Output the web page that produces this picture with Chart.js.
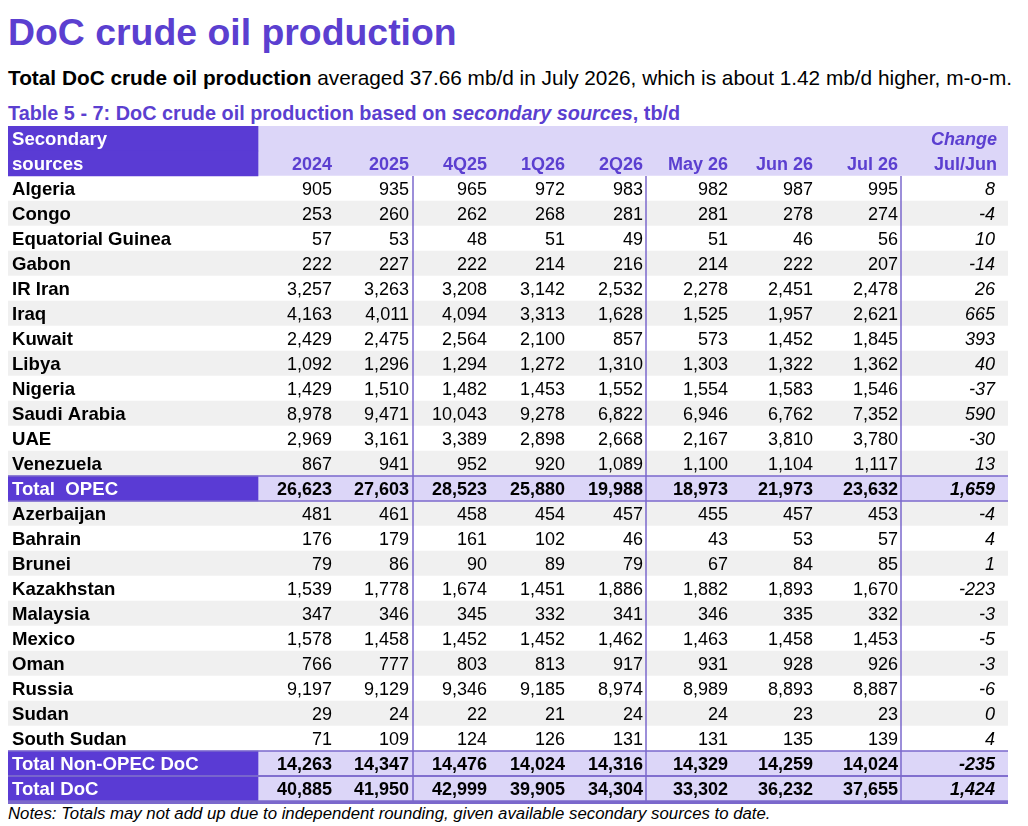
<!DOCTYPE html>
<html>
<head>
<meta charset="utf-8">
<title>DoC crude oil production</title>
<script src="https://cdn.jsdelivr.net/npm/chart.js@4.4.1/dist/chart.umd.min.js"></script>
<style>
  body { margin: 0; background: #fff; font-family: "Liberation Sans", Arial, sans-serif; color: #000; }
  .page { position: relative; width: 1028px; height: 826px; overflow: hidden; }
  h1 { position: absolute; left: 8px; top: 14px; margin: 0; font-size: 37.4px; line-height: 37px; color: #5b3fd0; font-weight: bold; white-space: nowrap; }
  .lead { position: absolute; left: 8px; top: 67px; margin: 0; font-size: 20.8px; line-height: 21px; white-space: nowrap; }
  .caption { position: absolute; left: 8px; top: 103px; font-size: 19.85px; line-height: 20px; color: #5b3fd0; font-weight: bold; white-space: nowrap; }
  #tbl { position: absolute; left: 8px; top: 126px; }
  .notes { position: absolute; left: 8px; top: 805px; font-size: 16.8px; line-height: 17px; font-style: italic; white-space: nowrap; }
</style>
</head>
<body>
<div class="page">
  <h1>DoC crude oil production</h1>
  <p class="lead"><b>Total DoC crude oil production</b> averaged 37.66 mb/d in July 2026, which is about 1.42 mb/d higher, m-o-m.</p>
  <div class="caption">Table 5 - 7: DoC crude oil production based on <i>secondary sources</i>, tb/d</div>
  <canvas id="tbl" width="1000" height="678"></canvas>
  <div class="notes">Notes: Totals may not add up due to independent rounding, given available secondary sources to date.</div>
</div>
<script>
// DATA
const columns = ['2024', '2025', '4Q25', '1Q26', '2Q26', 'May 26', 'Jun 26', 'Jul 26'];
const changeHeader = ['Change', 'Jul/Jun'];

const opecNames = ['Algeria', 'Congo', 'Equatorial Guinea', 'Gabon', 'IR Iran', 'Iraq',
  'Kuwait', 'Libya', 'Nigeria', 'Saudi Arabia', 'UAE', 'Venezuela'];
const opecValues = [
  [905, 935, 965, 972, 983, 982, 987, 995],
  [253, 260, 262, 268, 281, 281, 278, 274],
  [57, 53, 48, 51, 49, 51, 46, 56],
  [222, 227, 222, 214, 216, 214, 222, 207],
  [3257, 3263, 3208, 3142, 2532, 2278, 2451, 2478],
  [4163, 4011, 4094, 3313, 1628, 1525, 1957, 2621],
  [2429, 2475, 2564, 2100, 857, 573, 1452, 1845],
  [1092, 1296, 1294, 1272, 1310, 1303, 1322, 1362],
  [1429, 1510, 1482, 1453, 1552, 1554, 1583, 1546],
  [8978, 9471, 10043, 9278, 6822, 6946, 6762, 7352],
  [2969, 3161, 3389, 2898, 2668, 2167, 3810, 3780],
  [867, 941, 952, 920, 1089, 1100, 1104, 1117]
];
const opecChange = [8, -4, 10, -14, 26, 665, 393, 40, -37, 590, -30, 13];
const opecTotal = [26623, 27603, 28523, 25880, 19988, 18973, 21973, 23632];
const opecTotalChange = 1659;

const nonOpecNames = ['Azerbaijan', 'Bahrain', 'Brunei', 'Kazakhstan', 'Malaysia', 'Mexico',
  'Oman', 'Russia', 'Sudan', 'South Sudan'];
const nonOpecValues = [
  [481, 461, 458, 454, 457, 455, 457, 453],
  [176, 179, 161, 102, 46, 43, 53, 57],
  [79, 86, 90, 89, 79, 67, 84, 85],
  [1539, 1778, 1674, 1451, 1886, 1882, 1893, 1670],
  [347, 346, 345, 332, 341, 346, 335, 332],
  [1578, 1458, 1452, 1452, 1462, 1463, 1458, 1453],
  [766, 777, 803, 813, 917, 931, 928, 926],
  [9197, 9129, 9346, 9185, 8974, 8989, 8893, 8887],
  [29, 24, 22, 21, 24, 24, 23, 23],
  [71, 109, 124, 126, 131, 131, 135, 139]
];
const nonOpecChange = [-4, 4, 1, -223, -3, -5, -3, -6, 0, 4];
const nonOpecTotal = [14263, 14347, 14476, 14024, 14316, 14329, 14259, 14024];
const nonOpecTotalChange = -235;

const docTotal = [40885, 41950, 42999, 39905, 34304, 33302, 36232, 37655];
const docTotalChange = 1424;

// LAYOUT (x axis runs 0..1000 across the table)
const TABLE_W = 1000;
const LABEL_END = 250;
const COL_RIGHT = [324, 401, 479, 557, 635, 720, 805, 890, 987];
const DIVIDERS = [405, 638, 893];

const PURPLE = '#5a3bd4';
const LAVENDER = '#dcd6f8';
const GRAY = '#f0f0f0';
const LINE = '#7b68cc';
const HEAD_TEXT = '#5b3fd0';
const FONT = '"Liberation Sans", Arial, sans-serif';
const LABEL_FONT = 'bold 18.6px ' + FONT;

// build the row list
const rows = [{ key: 'hdr1', kind: 'head' }, { key: 'hdr2', kind: 'head' }];
opecNames.forEach((n, i) => rows.push({ key: n, kind: 'row', shade: i % 2 === 1, values: opecValues[i], change: opecChange[i] }));
rows.push({ key: 'Total  OPEC', kind: 'total', values: opecTotal, change: opecTotalChange });
nonOpecNames.forEach((n, i) => rows.push({ key: n, kind: 'row', shade: i % 2 === 0, values: nonOpecValues[i], change: nonOpecChange[i] }));
rows.push({ key: 'Total Non-OPEC DoC', kind: 'total', values: nonOpecTotal, change: nonOpecTotalChange });
rows.push({ key: 'Total DoC', kind: 'total', values: docTotal, change: docTotalChange });

const fmt = v => v.toLocaleString('en-US');

const tableText = {
  id: 'tableText',
  afterDatasetsDraw(chart) {
    const { ctx, scales: { x, y } } = chart;
    const band = y.getPixelForValue(1) - y.getPixelForValue(0);
    const rowTop = i => y.getPixelForValue(i) - band / 2;
    ctx.save();

    // rules
    ctx.strokeStyle = LINE;
    ctx.lineWidth = 1.5;
    const top = rowTop(2);
    const bottom = rowTop(rows.length - 1) + band;
    DIVIDERS.forEach(d => {
      const px = x.getPixelForValue(d);
      ctx.beginPath(); ctx.moveTo(px, top); ctx.lineTo(px, bottom); ctx.stroke();
    });
    rows.forEach((r, i) => {
      if (r.kind !== 'total') return;
      [rowTop(i), rowTop(i) + band].forEach(py => {
        ctx.beginPath(); ctx.moveTo(x.getPixelForValue(0), py); ctx.lineTo(x.getPixelForValue(TABLE_W), py); ctx.stroke();
      });
    });
    ctx.lineWidth = 3;
    ctx.beginPath(); ctx.moveTo(x.getPixelForValue(0), bottom + 1.5); ctx.lineTo(x.getPixelForValue(TABLE_W), bottom + 1.5); ctx.stroke();

    // text
    ctx.textBaseline = 'alphabetic';
    const lx = x.getPixelForValue(4);
    const base = i => y.getPixelForValue(i) + 6.5;

    ctx.fillStyle = '#fff';
    ctx.textAlign = 'left';
    ctx.font = LABEL_FONT;
    ctx.fillText('Secondary', lx, base(0));
    ctx.fillText('sources', lx, base(1));

    ctx.fillStyle = HEAD_TEXT;
    ctx.textAlign = 'right';
    ctx.font = 'bold 18px ' + FONT;
    columns.forEach((c, j) => ctx.fillText(c, x.getPixelForValue(COL_RIGHT[j]), base(1)));
    ctx.fillText(changeHeader[1], x.getPixelForValue(COL_RIGHT[8] + 2), base(1));
    ctx.font = 'italic bold 18px ' + FONT;
    ctx.fillText(changeHeader[0], x.getPixelForValue(COL_RIGHT[8] + 2), base(0));

    rows.forEach((r, i) => {
      if (r.kind === 'head') return;
      const b = base(i);
      const total = r.kind === 'total';
      ctx.textAlign = 'left';
      ctx.font = LABEL_FONT;
      ctx.fillStyle = total ? '#fff' : '#000';
      ctx.fillText(r.key, lx, b);
      ctx.fillStyle = '#000';
      ctx.textAlign = 'right';
      ctx.font = (total ? 'bold ' : '') + '18px ' + FONT;
      r.values.forEach((v, j) => ctx.fillText(fmt(v), x.getPixelForValue(COL_RIGHT[j]), b));
      ctx.font = 'italic ' + (total ? 'bold ' : '') + '18px ' + FONT;
      ctx.fillText(fmt(r.change), x.getPixelForValue(COL_RIGHT[8]), b);
    });
    ctx.restore();
  }
};

new Chart(document.getElementById('tbl'), {
  type: 'bar',
  data: {
    labels: rows.map(r => r.key),
    datasets: [
      {
        label: 'label cells',
        data: rows.map(r => r.kind === 'row' ? null : [0, LABEL_END]),
        backgroundColor: PURPLE,
        grouped: false,
        barPercentage: 1,
        categoryPercentage: 1
      },
      {
        label: 'row fill',
        data: rows.map(r => r.kind === 'row' ? [0, TABLE_W] : [LABEL_END, TABLE_W]),
        backgroundColor: rows.map(r => r.kind === 'row' ? (r.shade ? GRAY : '#fff') : LAVENDER),
        grouped: false,
        barPercentage: 1,
        categoryPercentage: 1
      }
    ]
  },
  options: {
    indexAxis: 'y',
    responsive: false,
    animation: false,
    layout: { padding: { top: 0, left: 0, right: 0, bottom: 3 } },
    scales: {
      x: { type: 'linear', min: 0, max: TABLE_W, display: false },
      y: { type: 'category', offset: true, display: false }
    },
    plugins: {
      legend: { display: false },
      tooltip: { enabled: false }
    }
  },
  plugins: [tableText]
});
</script>
</body>
</html>
